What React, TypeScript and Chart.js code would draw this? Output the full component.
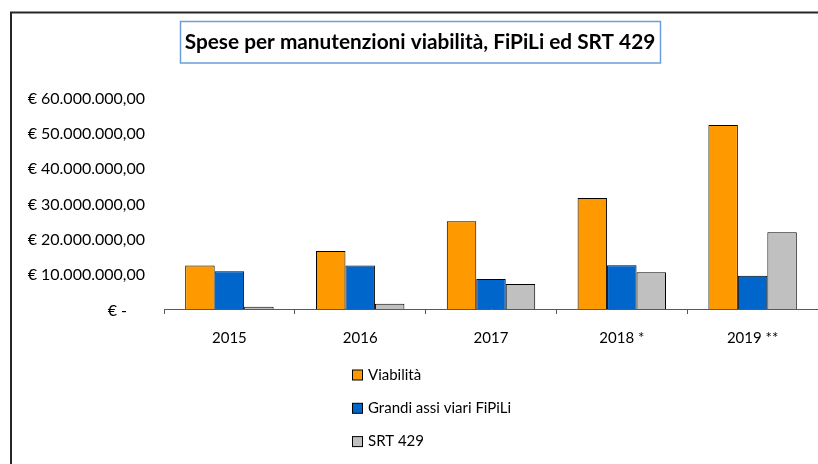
import React, { useEffect, useRef } from "react";
import { Chart, registerables } from "chart.js";

Chart.register(...registerables);

const categories = ["2015", "2016", "2017", "2018 *", "2019 **"];
const viabilita = [12300000, 16400000, 24800000, 31400000, 52100000];
const fipili = [10650000, 12300000, 8500000, 12350000, 9400000];
const srt429 = [650000, 1500000, 7100000, 10400000, 21700000];
const seriesNames = ["Viabilità", "Grandi assi viari FiPiLi", "SRT 429"];
const seriesColors = ["#FF9900", "#0066CC", "#C0C0C0"];
const titleText = "Spese per manutenzioni viabilità, FiPiLi ed SRT 429";
const yMax = 60000000;
const yStep = 10000000;

const FONT = "Lato, 'Noto Sans', sans-serif";

function formatEuro(v: number): string {
  if (v === 0) return "€ -\u2002\u2002\u2009";
  const s = Math.round(v).toString();
  let out = "";
  for (let i = 0; i < s.length; i++) {
    const fromEnd = s.length - i;
    out += s[i];
    if (fromEnd > 1 && (fromEnd - 1) % 3 === 0) out += ".";
  }
  return "€ " + out + ",00";
}

const framePlugin = {
  id: "framePlugin",
  beforeDraw(chart: any) {
    const ctx = chart.ctx;
    ctx.save();
    ctx.fillStyle = "#ffffff";
    ctx.fillRect(0, 0, chart.width, chart.height);
    ctx.strokeStyle = "#262626";
    ctx.lineWidth = 2;
    ctx.beginPath();
    ctx.moveTo(11, chart.height);
    ctx.lineTo(11, 12.5);
    ctx.lineTo(chart.width, 12.5);
    ctx.stroke();
    ctx.restore();
  },
};

const titlePlugin = {
  id: "titleBox",
  afterDraw(chart: any) {
    const ctx = chart.ctx;
    ctx.save();
    const targetW = 471;
    let size = 18;
    ctx.font = `bold ${size}px ${FONT}`;
    const w = ctx.measureText(titleText).width;
    size = (size * targetW) / w;
    ctx.font = `bold ${size}px ${FONT}`;
    const cx = 420;
    const cy = 42;
    ctx.strokeStyle = "#6A9FDB";
    ctx.lineWidth = 1.5;
    ctx.strokeRect(180.5, 21.5, 480, 41.5);
    ctx.fillStyle = "#000000";
    ctx.textAlign = "center";
    ctx.textBaseline = "middle";
    ctx.fillText(titleText, cx, cy);
    ctx.restore();
  },
};

const legendPlugin = {
  id: "legendList",
  afterDraw(chart: any) {
    const ctx = chart.ctx;
    ctx.save();
    ctx.font = `15px ${FONT}`;
    ctx.textBaseline = "middle";
    ctx.textAlign = "left";
    chart.data.datasets.forEach((ds: any, i: number) => {
      const y = 375 + i * 33.3;
      ctx.fillStyle = ds.backgroundColor;
      ctx.fillRect(352.5, y - 5, 10, 10);
      ctx.strokeStyle = "#000000";
      ctx.lineWidth = 1;
      ctx.strokeRect(352.5, y - 5, 10, 10);
      ctx.fillStyle = "#000000";
      ctx.fillText(ds.label, 368, y);
    });
    ctx.restore();
  },
};

export default function App() {
  const ref = useRef<HTMLCanvasElement | null>(null);

  useEffect(() => {
    document.body.style.margin = "0";
    if (!ref.current) return;
    const datasets = [viabilita, fipili, srt429].map((d, i) => ({
      label: seriesNames[i],
      data: d,
      backgroundColor: seriesColors[i],
      borderColor: "#000000",
      borderWidth: 1,
      categoryPercentage: 0.676,
      barPercentage: 1.0,
    }));
    const chart = new Chart(ref.current, {
      type: "bar",
      data: { labels: categories, datasets },
      plugins: [framePlugin, titlePlugin, legendPlugin],
      options: {
        animation: false,
        responsive: false,
        devicePixelRatio: 1,
        layout: { padding: { top: 97, left: 0, right: 0, bottom: 0 } },
        plugins: {
          legend: { display: false },
          title: { display: false },
          tooltip: { enabled: false },
        },
        scales: {
          x: {
            grid: {
              display: true,
              drawOnChartArea: false,
              drawTicks: true,
              tickLength: 5,
              color: "#595959",
              offset: true,
            },
            border: { display: true, color: "#595959", width: 1 },
            ticks: {
              color: "#000000",
              font: { family: FONT, size: 15 },
              padding: 15,
              maxRotation: 0,
            },
            afterFit: (scale: any) => {
              scale.height = 155;
            },
          },
          y: {
            min: 0,
            max: yMax,
            grid: { display: false, drawTicks: false },
            border: { display: false },
            ticks: {
              stepSize: yStep,
              autoSkip: false,
              color: "#000000",
              font: { family: FONT, size: 16 },
              padding: 19,
              labelOffset: 1.5,
              callback: (v: any) => formatEuro(Number(v)),
            },
            afterFit: (scale: any) => {
              scale.width = 164;
            },
          },
        },
      },
    });
    return () => chart.destroy();
  }, []);

  return (
    <div style={{ position: "fixed", left: 0, top: 0, width: 818, height: 464, background: "#fff" }}>
      <canvas ref={ref} width={818} height={464} style={{ display: "block" }} />
    </div>
  );
}
